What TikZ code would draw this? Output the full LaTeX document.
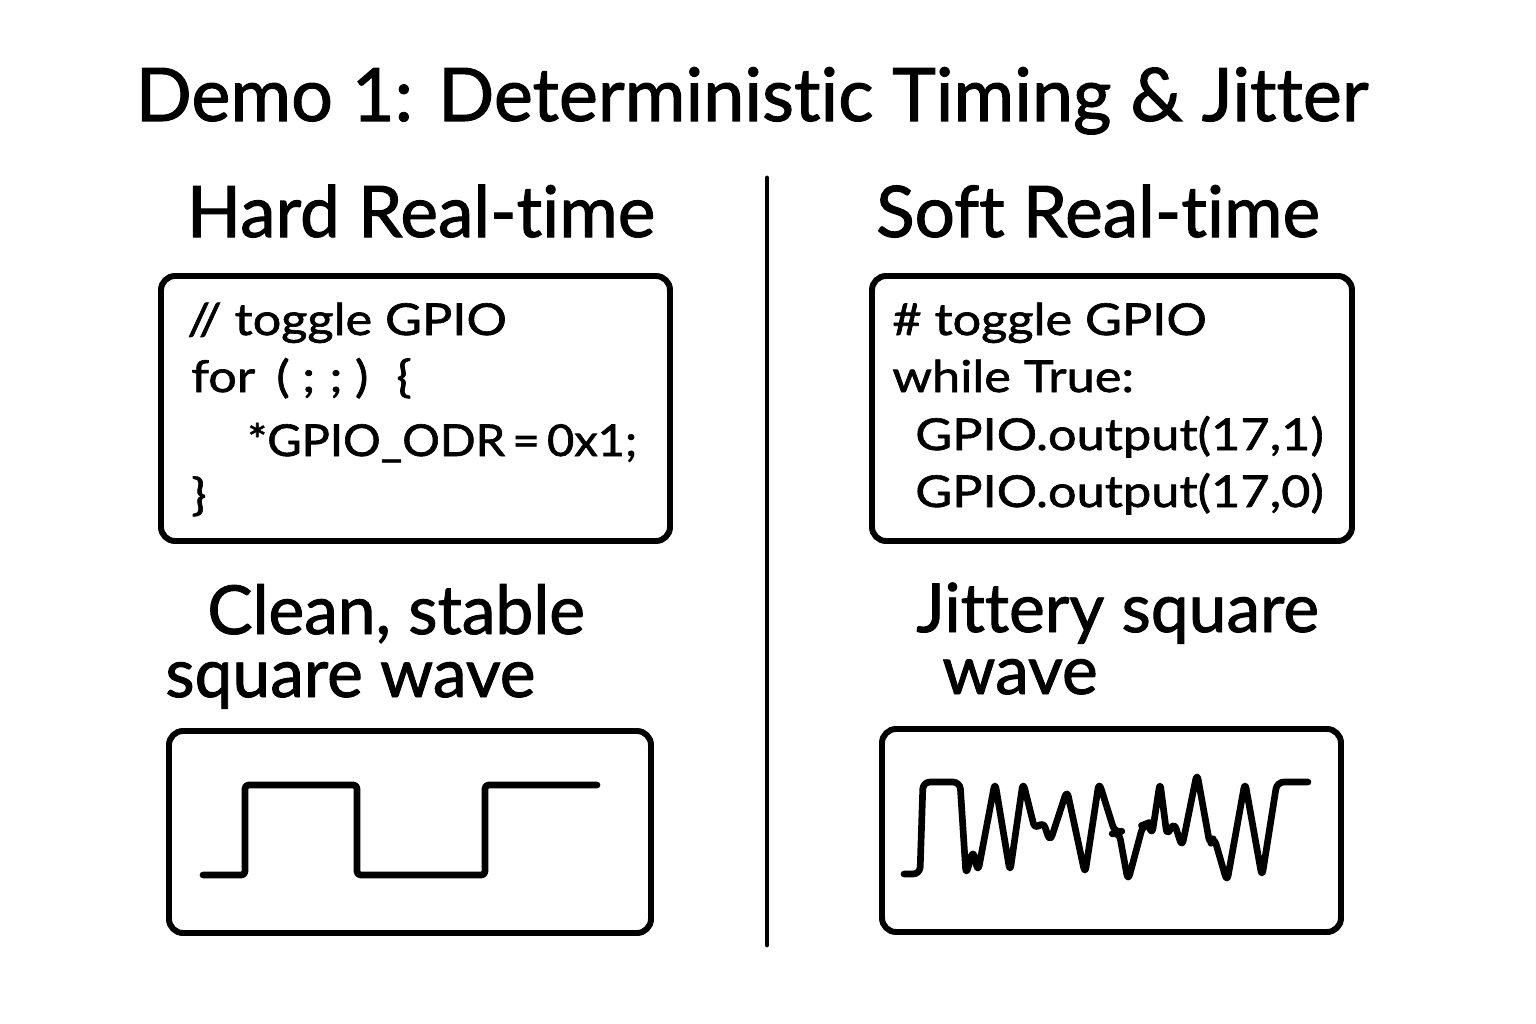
\documentclass[tikz,border=0pt]{standalone}
\usepackage{fontspec}
\setmainfont[Ligatures=CommonOff, FakeBold=1.4]{Lato}
\newfontfamily\codefont[Ligatures=CommonOff, FakeBold=1.4, FakeStretch=1.15]{Lato}
\newfontfamily\codetight[Ligatures=CommonOff, FakeBold=1.4, FakeStretch=1.07]{Lato}
\begin{document}
\begin{tikzpicture}[x=0.02cm, y=-0.02cm,
    box/.style={draw=black, line width=3.4pt, rounded corners=8pt},
    wave/.style={draw=black, line width=3.8pt, line join=round, line cap=round},
    code/.style={anchor=base west, inner sep=0pt, font=\codefont\fontsize{25}{27}\selectfont},
    caption/.style={anchor=base west, inner sep=0pt, font=\fontsize{38.5}{42}\selectfont}]
  \useasboundingbox[fill=white] (0,0) rectangle (1536,1024);
  % title and column heads
  \node[anchor=base, inner sep=0pt, font=\fontsize{42}{46}\selectfont] (title) at (752,121) {Demo 1: Deterministic Timing \& Jitter};
  \node[anchor=base, inner sep=0pt, font=\fontsize{40.5}{44}\selectfont] (hard) at (421,237) {Hard Real-time};
  \node[anchor=base, inner sep=0pt, font=\fontsize{40.5}{44}\selectfont] (soft) at (1098,237) {Soft Real-time};
  \draw[line width=2.8pt, line cap=round] (767,178) -- (767,945);
  % code boxes
  \draw[box] (161,276) rectangle (670,541);
  \node[code] (c1) at (187,335) {// toggle GPIO};
  \node[code] (c2) at (191,392) {for\hspace{12pt}(\hspace{7pt};\hspace{8pt};\hspace{7pt})\hspace{16pt}\{};
  \node[code, font=\codetight\fontsize{25}{27}\selectfont] (c3) at (247,456) {*GPIO\_ODR\,=\,0x1;};
  \node[code] (c4) at (191,510) {\}};
  \draw[box] (872,276) rectangle (1352,541);
  \node[code] (p1) at (892,335) {\# toggle GPIO};
  \node[code] (p2) at (892,392) {while True:};
  \node[code] (p3) at (915,450) {GPIO.output(17,1)};
  \node[code] (p4) at (915,507) {GPIO.output(17,0)};
  % captions
  \node[caption] (clean) at (207,634) {Clean, stable};
  \node[caption] (sqw) at (165,697) {square wave};
  \node[caption] (jit) at (916,632) {Jittery square};
  \node[caption] (jw) at (942,694) {wave};
  % waveforms
  \draw[box] (169,731) rectangle (651,933);
  \draw[wave, rounded corners=2pt] (203,875) -- (245,875) -- (245,785) -- (357,785) -- (357,875)
    -- (485,875) -- (485,785) -- (597,785);
  \draw[box] (882,729) rectangle (1341,932);
  \draw[wave, rounded corners=4pt] (904,874) -- (920,874) -- (923,782) -- (960,782)
    -- (966,875) -- (973,850) -- (978,872) -- (995,782) -- (1010,872) -- (1023,782)
    -- (1035,830) -- (1043,821) -- (1050,842) -- (1067,790) -- (1085,874) -- (1099,782)
    -- (1115,833) -- (1119,832) -- (1128,881) -- (1143,825) -- (1148,823) -- (1152,835)
    -- (1160,782) -- (1167,836) -- (1174,822) -- (1182,847) -- (1197,773) -- (1210,845)
    -- (1214,837) -- (1227,882) -- (1245,782) -- (1262,877) -- (1277,782) -- (1308,782);
\end{tikzpicture}
\end{document}
